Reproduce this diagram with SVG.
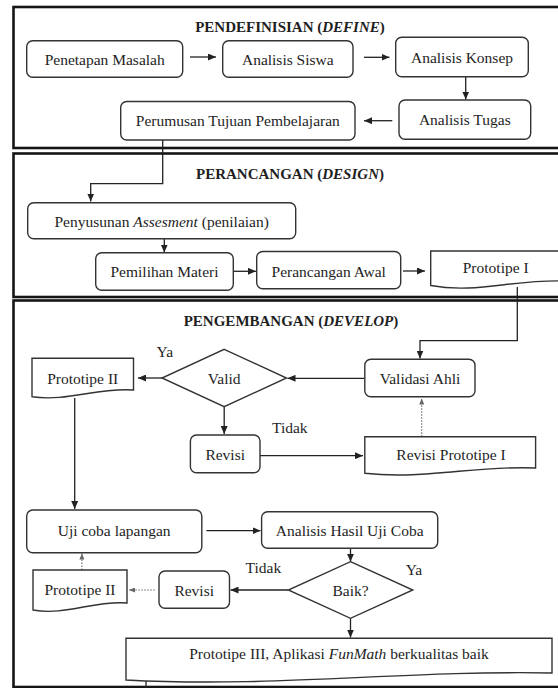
<svg xmlns="http://www.w3.org/2000/svg" width="558" height="688" viewBox="0 0 558 688">
<defs>
<style>
.frame{fill:none;stroke:#151515;stroke-width:2.6}
.box{fill:#fff;stroke:#333;stroke-width:1.4}
.t{font-family:"Liberation Serif","Times New Roman",serif;font-size:15.5px;fill:#1e1e1e;text-anchor:middle}
.title{font-weight:bold;font-size:15px}
.lbl{text-anchor:start}
.c{fill:none;stroke:#222;stroke-width:1.3;marker-end:url(#ah)}
.d{fill:none;stroke:#666;stroke-width:1.1;stroke-dasharray:1.5 1.5;marker-end:url(#ahd)}
</style>
<marker id="ah" markerUnits="userSpaceOnUse" markerWidth="8" markerHeight="7" refX="8" refY="3.5" orient="auto">
<path d="M0,0 L8,3.5 L0,7 z" fill="#222"/>
</marker>
<marker id="ahd" markerUnits="userSpaceOnUse" markerWidth="6" markerHeight="5" refX="6" refY="2.5" orient="auto">
<path d="M0,0 L6,2.5 L0,5 z" fill="#666"/>
</marker>
</defs>
<rect width="558" height="688" fill="#fff"/>

<g id="sections">
<rect class="frame" x="13.5" y="7" width="560" height="141"/>
<rect class="frame" x="13.5" y="153.5" width="560" height="143.5"/>
<rect class="frame" x="13.5" y="300.5" width="560" height="386.5"/>
<text class="t title" x="290" y="31.5">PENDEFINISIAN (<tspan font-style="italic">DEFINE</tspan>)</text>
<text class="t title" x="290" y="179">PERANCANGAN (<tspan font-style="italic">DESIGN</tspan>)</text>
<text class="t title" x="291" y="326">PENGEMBANGAN (<tspan font-style="italic">DEVELOP</tspan>)</text>
</g>

<g id="connectors">
<path class="c" d="M190,57 H216"/>
<path class="c" d="M364,57.3 H389.5"/>
<path class="c" d="M465.7,76.7 V99.5"/>
<path class="c" d="M392.3,120.7 H364"/>
<path class="c" d="M162.7,140 V183.7 H90.7 V201.5"/>
<path class="c" d="M164.3,238.7 V252.5"/>
<path class="c" d="M233.3,271.3 H256"/>
<path class="c" d="M403,271 H425"/>
<path class="c" d="M517.3,287 V340.7 H420 V358.5"/>
<path class="c" d="M364.8,378.3 H287.5"/>
<path class="c" d="M162,378 H138"/>
<path class="c" d="M224.2,406.7 V434"/>
<path class="c" d="M260,455.7 H363"/>
<path class="d" d="M421.7,436.7 V398.5"/>
<path class="c" d="M74.7,398 V509"/>
<path class="c" d="M206.4,530.7 H260.5"/>
<path class="c" d="M350.5,548.3 V561.7"/>
<path class="c" d="M288.3,590 H230.5"/>
<path class="d" d="M154.8,590 H129"/>
<path class="d" d="M81.9,570 V553.5"/>
<path class="c" d="M350.5,618.3 V637.5"/>
<path fill="none" stroke="#222" stroke-width="1.3" d="M146,681 V690"/>
</g>

<g id="penetapan-masalah">
<rect class="box" x="26.7" y="40.7" width="156" height="36.6" rx="6"/>
<text class="t" x="104.7" y="65">Penetapan Masalah</text>
</g>
<g id="analisis-siswa">
<rect class="box" x="222.7" y="40.7" width="130.3" height="36.6" rx="6"/>
<text class="t" x="287.8" y="65">Analisis Siswa</text>
</g>
<g id="analisis-konsep">
<rect class="box" x="395.7" y="37.3" width="132.6" height="39.4" rx="6"/>
<text class="t" x="462" y="62.5">Analisis Konsep</text>
</g>
<g id="analisis-tugas">
<rect class="box" x="399" y="100" width="131.7" height="39.3" rx="6"/>
<text class="t" x="464.8" y="125">Analisis Tugas</text>
</g>
<g id="perumusan-tujuan">
<rect class="box" x="120.7" y="101.5" width="234.3" height="38.5" rx="6"/>
<text class="t" x="237.8" y="126">Perumusan Tujuan Pembelajaran</text>
</g>

<g id="penyusunan-assesment">
<rect class="box" x="27.7" y="202.7" width="268" height="36" rx="6"/>
<text class="t" x="161.7" y="227">Penyusunan <tspan font-style="italic">Assesment</tspan> (penilaian)</text>
</g>
<g id="pemilihan-materi">
<rect class="box" x="95.7" y="252.7" width="137.6" height="37.6" rx="6"/>
<text class="t" x="164.5" y="277">Pemilihan Materi</text>
</g>
<g id="perancangan-awal">
<rect class="box" x="256.7" y="251.5" width="144" height="37.2" rx="6"/>
<text class="t" x="328.7" y="277">Perancangan Awal</text>
</g>
<g id="prototipe-1">
<path class="box" d="M430.7,251 H566 V281 C513,279 477,294 430.7,285.5 Z"/>
<text class="t" x="495.7" y="273">Prototipe I</text>
</g>

<g id="validasi-ahli">
<rect class="box" x="364.8" y="359.3" width="110.2" height="37.4" rx="6"/>
<text class="t" x="420" y="384">Validasi Ahli</text>
</g>
<g id="valid">
<path class="box" d="M224.2,349.3 L286.5,378 L224.2,406.7 L162,378 Z"/>
<text class="t" x="224.2" y="384">Valid</text>
</g>
<text class="t lbl" x="156.6" y="356.7">Ya</text>
<text class="t lbl" x="272" y="433.3">Tidak</text>
<g id="prototipe-2-a">
<path class="box" d="M32,358.3 H133.5 V390 C99,387 67,402 32,396.7 Z"/>
<text class="t" x="82.7" y="384">Prototipe II</text>
</g>
<g id="revisi-a">
<rect class="box" x="190.4" y="435" width="69.6" height="37.7" rx="6"/>
<text class="t" x="225.2" y="460">Revisi</text>
</g>
<g id="revisi-prototipe-1">
<path class="box" d="M364.8,436.7 H535.6 V468 C478,465 424,480 364.8,473.3 Z"/>
<text class="t" x="451" y="460">Revisi Prototipe I</text>
</g>

<g id="uji-coba-lapangan">
<rect class="box" x="26.7" y="510" width="175.1" height="42.7" rx="6"/>
<text class="t" x="114.2" y="536" font-size="16.5">Uji coba lapangan</text>
</g>
<g id="analisis-hasil">
<rect class="box" x="261.6" y="511.7" width="176.1" height="36.6" rx="6"/>
<text class="t" x="349.7" y="536">Analisis Hasil Uji Coba</text>
</g>
<g id="baik">
<path class="box" d="M350.5,561.7 L412.8,590 L350.5,618.3 L288.3,590 Z"/>
<text class="t" x="350.5" y="596">Baik?</text>
</g>
<text class="t lbl" x="245.6" y="572.7">Tidak</text>
<text class="t lbl" x="405.7" y="575">Ya</text>
<g id="revisi-b">
<rect class="box" x="159" y="571" width="70.5" height="37.3" rx="6"/>
<text class="t" x="194.2" y="596">Revisi</text>
</g>
<g id="prototipe-2-b">
<path class="box" d="M33,570 H127 V603 C95,600 65,616 33,610 Z"/>
<text class="t" x="80" y="595">Prototipe II</text>
</g>
<g id="prototipe-3">
<path class="box" d="M126,638.3 H552 V673 C405,670 275,688 126,680 Z"/>
<text class="t" x="339" y="659">Prototipe III, Aplikasi <tspan font-style="italic">FunMath</tspan> berkualitas baik</text>
</g>
</svg>
